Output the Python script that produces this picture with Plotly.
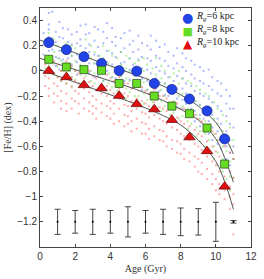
import plotly.graph_objects as go

# ---------------- data ----------------
bin_ages = [0.5, 1.5, 2.5, 3.5, 4.5, 5.5, 6.5, 7.5, 8.5, 9.5, 10.5]
feh_6kpc = [0.225, 0.169, 0.113, 0.059, 0.002, -0.002, -0.10, -0.147, -0.223, -0.318, -0.541]
feh_8kpc = [0.092, 0.031, 0.010, 0.005, -0.100, -0.100, -0.200, -0.280, -0.340, -0.454, -0.741]
feh_10kpc = [0.000, -0.050, -0.113, -0.138, -0.198, -0.264, -0.305, -0.390, -0.528, -0.638, -0.920]

fit_ages = [0, 1, 2, 3, 4, 5, 6, 7, 8, 9, 10, 10.5, 11]
fit_6kpc = [0.245, 0.195, 0.143, 0.09, 0.04, -0.01, -0.06, -0.12, -0.19, -0.28, -0.41, -0.52, -0.66]
fit_8kpc = [0.10, 0.055, 0.01, -0.035, -0.08, -0.125, -0.175, -0.235, -0.305, -0.39, -0.54, -0.69, -0.885]
fit_10kpc = [0.01, -0.04, -0.09, -0.14, -0.19, -0.24, -0.295, -0.355, -0.43, -0.55, -0.72, -0.88, -1.10]

err_ages = [1, 2, 3, 4, 5, 6, 7, 8, 9, 10, 11]
err_level = [-1.2] * 11
err_size = [0.10, 0.09, 0.10, 0.09, 0.12, 0.09, 0.10, 0.11, 0.105, 0.155, 0.01]

y_ticks = [0.4, 0.2, 0, -0.2, -0.4, -0.6, -0.8, -1, -1.2]
x_ticks = [0, 2, 4, 6, 8, 10, 12]

# individual stars (vertical streaks): age -> [Fe/H] values
stars_6kpc = {
    0.2: [0.3, 0.21, 0.13],
    0.5: [0.46, 0.37, 0.33, 0.27, 0.19, 0.16, 0.09], 0.7: [0.47, 0.26, 0.17, 0.07],
    0.9: [0.31, 0.23, 0.11, 0.04], 1.1: [0.39, 0.27, 0.16, 0.1, 0.01],
    1.3: [0.34, 0.26, 0.17, 0.09, 0.02], 1.6: [0.33, 0.23, 0.17, 0.1, -0.03],
    1.8: [0.29, 0.21, 0.12, 0.05], 2.1: [0.31, 0.22, 0.13, 0.07, -0.03],
    2.3: [0.36, 0.25, 0.2, 0.09, 0.04], 2.6: [0.37, 0.29, 0.18, 0.12, 0.02],
    2.8: [0.3, 0.21, 0.15, 0.06, -0.02], 3.1: [0.35, 0.24, 0.13, 0.06, -0.05],
    3.3: [0.33, 0.19, 0.12, 0.03, -0.04], 3.6: [0.31, 0.22, 0.1, 0.01, -0.08],
    3.8: [0.38, 0.26, 0.16, 0.07, 0.0], 4.1: [0.34, 0.23, 0.14, 0.05, -0.05],
    4.3: [0.27, 0.2, 0.11, 0.03, -0.06], 4.6: [0.26, 0.15, 0.06, -0.04, -0.11],
    4.8: [0.3, 0.18, 0.07, 0.0, -0.08], 5.1: [0.32, 0.21, 0.1, 0.01, -0.07],
    5.3: [0.24, 0.15, 0.05, -0.03, -0.1], 5.6: [0.28, 0.17, 0.09, -0.02, -0.12],
    5.8: [0.22, 0.11, 0.02, -0.06, -0.15], 6.1: [0.2, 0.1, 0.01, -0.08, -0.15],
    6.3: [0.28, 0.17, 0.08, -0.02, -0.1, -0.18], 6.6: [0.24, 0.12, 0.03, -0.06, -0.14, -0.22],
    6.8: [0.19, 0.1, 0.0, -0.09, -0.16], 7.1: [0.21, 0.08, -0.02, -0.1, -0.19],
    7.3: [0.15, 0.04, -0.05, -0.12, -0.2], 7.6: [0.12, 0.02, -0.08, -0.17, -0.25],
    7.8: [0.18, 0.06, -0.04, -0.14, -0.22, -0.29], 8.1: [0.14, 0.03, -0.06, -0.14, -0.23, -0.3],
    8.3: [0.1, 0.0, -0.1, -0.18, -0.26], 8.6: [0.08, -0.03, -0.12, -0.21, -0.3, -0.36],
    8.8: [0.05, -0.06, -0.16, -0.24, -0.32, -0.4], 9.1: [0.03, -0.08, -0.18, -0.27, -0.35, -0.44],
    9.3: [0.0, -0.1, -0.2, -0.3, -0.38], 9.6: [0.01, -0.12, -0.22, -0.32, -0.4, -0.5],
    9.8: [-0.05, -0.15, -0.25, -0.35, -0.45, -0.55], 10.1: [-0.08, -0.18, -0.28, -0.38, -0.48, -0.58],
    10.3: [-0.1, -0.2, -0.32, -0.42, -0.52, -0.62], 10.6: [-0.15, -0.26, -0.36, -0.48, -0.6, -0.7],
    10.8: [-0.2, -0.3, -0.42, -0.55, -0.65, -0.75], 11.0: [-0.3, -0.45, -0.6, -0.7],
}
stars_8kpc = {
    0.3: [0.22, 0.1, 0.02],
    0.5: [0.3, 0.2, 0.12, 0.05, -0.02], 0.8: [0.25, 0.15, 0.06, -0.03],
    1.0: [0.2, 0.1, 0.03, -0.05], 1.2: [0.16, 0.08, 0.0, -0.08],
    1.5: [0.22, 0.14, 0.06, -0.02, -0.1], 1.8: [0.2, 0.12, 0.03, -0.05, -0.12],
    2.0: [0.18, 0.08, 0.0, -0.07], 2.3: [0.14, 0.05, -0.03, -0.1],
    2.6: [0.25, 0.12, 0.04, -0.04, -0.12], 2.9: [0.2, 0.1, 0.0, -0.08, -0.14],
    3.1: [0.15, 0.06, -0.02, -0.1], 3.4: [0.12, 0.04, -0.05, -0.12],
    3.6: [0.2, 0.1, 0.0, -0.08, -0.15], 3.9: [0.16, 0.06, -0.02, -0.1, -0.18],
    4.1: [0.12, 0.03, -0.05, -0.13], 4.4: [0.1, 0.0, -0.08, -0.16],
    4.6: [0.15, 0.05, -0.04, -0.12, -0.2], 4.9: [0.12, 0.02, -0.06, -0.14, -0.22],
    5.1: [0.1, 0.0, -0.08, -0.17], 5.4: [0.06, -0.04, -0.12, -0.2],
    5.6: [0.08, -0.02, -0.12, -0.2, -0.26], 5.9: [0.1, 0.0, -0.09, -0.18, -0.26],
    6.1: [0.05, -0.06, -0.15, -0.23], 6.4: [0.02, -0.08, -0.17, -0.25],
    6.6: [0.1, -0.03, -0.12, -0.2, -0.3], 6.9: [0.04, -0.06, -0.15, -0.24, -0.32],
    7.1: [0.0, -0.1, -0.2, -0.28], 7.4: [-0.05, -0.16, -0.26, -0.35],
    7.6: [-0.02, -0.14, -0.24, -0.33, -0.4], 7.9: [0.0, -0.1, -0.2, -0.3, -0.38],
    8.1: [-0.06, -0.18, -0.28, -0.36], 8.4: [-0.08, -0.2, -0.3, -0.4, -0.46],
    8.6: [-0.1, -0.22, -0.32, -0.42, -0.5], 8.9: [-0.12, -0.24, -0.35, -0.45, -0.52],
    9.1: [-0.15, -0.27, -0.38, -0.48, -0.56], 9.4: [-0.18, -0.3, -0.4, -0.5, -0.6],
    9.6: [-0.2, -0.32, -0.44, -0.55, -0.65], 9.9: [-0.25, -0.38, -0.5, -0.6, -0.7],
    10.1: [-0.3, -0.42, -0.55, -0.65, -0.75], 10.4: [-0.35, -0.48, -0.6, -0.7, -0.8],
    10.6: [-0.4, -0.52, -0.64, -0.76, -0.86], 10.8: [-0.45, -0.6, -0.72, -0.84, -0.95],
    11.0: [-0.55, -0.7, -0.85],
}
stars_10kpc = {
    0.3: [0.05, -0.04, -0.12],
    0.5: [0.1, 0.02, -0.06, -0.14, -0.2], 0.8: [0.08, -0.02, -0.1, -0.18, -0.25],
    1.0: [0.05, -0.05, -0.12, -0.2], 1.2: [0.0, -0.08, -0.16, -0.24, -0.3],
    1.5: [0.08, -0.02, -0.1, -0.18, -0.26, -0.32], 1.8: [0.04, -0.05, -0.13, -0.22, -0.3],
    2.0: [0.0, -0.08, -0.16, -0.24], 2.2: [-0.02, -0.1, -0.18, -0.26, -0.34],
    2.5: [0.02, -0.06, -0.14, -0.22, -0.3], 2.8: [0.0, -0.09, -0.17, -0.25, -0.32],
    3.0: [-0.04, -0.12, -0.2, -0.28, -0.34], 3.2: [-0.06, -0.15, -0.23, -0.3, -0.38],
    3.5: [0.0, -0.1, -0.18, -0.26, -0.33], 3.8: [-0.03, -0.12, -0.2, -0.28, -0.36],
    4.0: [-0.06, -0.15, -0.24, -0.3, -0.38], 4.2: [-0.08, -0.18, -0.26, -0.34, -0.42],
    4.5: [-0.05, -0.14, -0.22, -0.3, -0.4], 4.8: [-0.1, -0.18, -0.27, -0.35, -0.44],
    5.0: [-0.1, -0.2, -0.28, -0.36, -0.42], 5.2: [-0.14, -0.24, -0.32, -0.4, -0.48],
    5.5: [-0.12, -0.22, -0.3, -0.38, -0.46], 5.8: [-0.13, -0.24, -0.33, -0.41, -0.5],
    6.0: [-0.16, -0.26, -0.34, -0.42, -0.5], 6.2: [-0.18, -0.28, -0.37, -0.46, -0.54],
    6.5: [-0.15, -0.25, -0.35, -0.44, -0.52], 6.8: [-0.2, -0.29, -0.38, -0.47, -0.55],
    7.0: [-0.2, -0.3, -0.4, -0.48, -0.56], 7.2: [-0.22, -0.32, -0.42, -0.52, -0.6],
    7.5: [-0.25, -0.35, -0.45, -0.55, -0.62], 7.8: [-0.26, -0.37, -0.47, -0.56, -0.65],
    8.0: [-0.3, -0.4, -0.5, -0.58, -0.66], 8.2: [-0.3, -0.42, -0.52, -0.62, -0.7],
    8.5: [-0.32, -0.44, -0.55, -0.65, -0.72], 8.8: [-0.35, -0.47, -0.58, -0.68, -0.76],
    9.0: [-0.38, -0.5, -0.6, -0.7, -0.8], 9.2: [-0.4, -0.52, -0.63, -0.73, -0.82],
    9.5: [-0.45, -0.56, -0.68, -0.78, -0.86], 9.8: [-0.48, -0.6, -0.72, -0.82, -0.9],
    10.0: [-0.5, -0.64, -0.75, -0.86, -0.95], 10.2: [-0.55, -0.68, -0.8, -0.9, -0.98],
    10.5: [-0.6, -0.72, -0.84, -0.95, -1.02], 10.8: [-0.65, -0.8, -0.92, -1.0, -1.1],
    11.0: [-0.7, -0.85, -0.98, -1.06, -1.2, -1.3],
}

legend_labels = ["<i>R</i><sub><i>g</i></sub>=6 kpc", "<i>R</i><sub><i>g</i></sub>=8 kpc",
                 "<i>R</i><sub><i>g</i></sub>=10 kpc"]
legend_symbols = ["●", "■", "▲"]
legend_symbol_px = [13, 11, 12]

# ---------------- figure ----------------
fig = go.Figure()

def expand(d):
    xs, ys = [], []
    for a, vals in d.items():
        for v in vals:
            xs.append(a)
            ys.append(v)
    return xs, ys

dot_colors = ["rgba(70,100,255,0.45)", "rgba(120,225,90,0.55)", "rgba(255,70,70,0.45)"]
for d, c in zip([stars_6kpc, stars_8kpc, stars_10kpc], dot_colors):
    xs, ys = expand(d)
    fig.add_trace(go.Scatter(x=xs, y=ys, mode="markers", showlegend=False, hoverinfo="skip",
                             marker=dict(symbol="square", size=2, color=c, line=dict(width=0))))

for fy in [fit_6kpc, fit_8kpc, fit_10kpc]:
    fig.add_trace(go.Scatter(x=fit_ages, y=fy, mode="lines", showlegend=False,
                             line=dict(color="#555555", width=1, shape="spline")))

main_colors = ["#2244e6", "#66dd22", "#e01010"]
edge_colors = ["#1a2a90", "#335522", "#701010"]
fig.add_trace(go.Scatter(x=bin_ages, y=feh_6kpc, mode="markers", name="6 kpc", showlegend=False,
                         marker=dict(symbol="circle", size=10, color=main_colors[0],
                                     line=dict(color=edge_colors[0], width=0.8))))
fig.add_trace(go.Scatter(x=bin_ages, y=feh_8kpc, mode="markers", name="8 kpc", showlegend=False,
                         marker=dict(symbol="square", size=8, color=main_colors[1],
                                     line=dict(color=edge_colors[1], width=0.8))))
fig.add_trace(go.Scatter(x=bin_ages, y=feh_10kpc, mode="markers", name="10 kpc", showlegend=False,
                         marker=dict(symbol="triangle-up", size=10, color=main_colors[2],
                                     line=dict(color=edge_colors[2], width=0.8))))

fig.add_trace(go.Scatter(x=err_ages, y=err_level, mode="markers", showlegend=False,
                         marker=dict(size=2, color="black"),
                         error_y=dict(type="data", array=err_size, visible=True,
                                      color="#444444", thickness=1, width=3)))

# compact legend: one text block for the keys, one for the labels
sym_text = "<br>".join(
    f'<span style="color:{c};font-size:{s}px">{g}</span>'
    for g, c, s in zip(legend_symbols, main_colors, legend_symbol_px))
lab_text = "<br>".join(legend_labels)
fig.add_annotation(xref="paper", yref="paper", x=0.70, y=0.995, text=sym_text, showarrow=False,
                   xanchor="center", yanchor="top", align="center", borderpad=0,
                   font=dict(family="DejaVu Sans", size=10, color="#222222"))
fig.add_annotation(xref="paper", yref="paper", x=0.735, y=0.995, text=lab_text, showarrow=False,
                   xanchor="left", yanchor="top", align="left", borderpad=0,
                   font=dict(family="Liberation Serif, serif", size=10, color="#222222"))

axis_common = dict(showline=True, linecolor="#444444", linewidth=1, mirror="allticks",
                   ticks="inside", ticklen=3, tickcolor="#444444", showgrid=False,
                   zeroline=False,
                   tickfont=dict(family="Liberation Sans, Arial", size=10, color="#333333"))

fig.update_layout(
    width=264, height=279,
    margin=dict(l=36, r=8, t=7, b=27),
    paper_bgcolor="white", plot_bgcolor="white",
    xaxis=dict(range=[0, 12], tickvals=x_ticks,
               title=dict(text="Age (Gyr)", standoff=3,
                          font=dict(family="Liberation Serif, serif", size=10, color="#333333")),
               **axis_common),
    yaxis=dict(range=[-1.4, 0.5], tickvals=y_ticks,
               title=dict(text="[Fe/H] (dex)", standoff=3,
                          font=dict(family="Liberation Serif, serif", size=10, color="#333333")),
               **axis_common),
    showlegend=False,
)

fig.write_html("out.html", config={"displayModeBar": False},
               post_script="document.body.style.margin='0';document.body.style.overflow='hidden';")
